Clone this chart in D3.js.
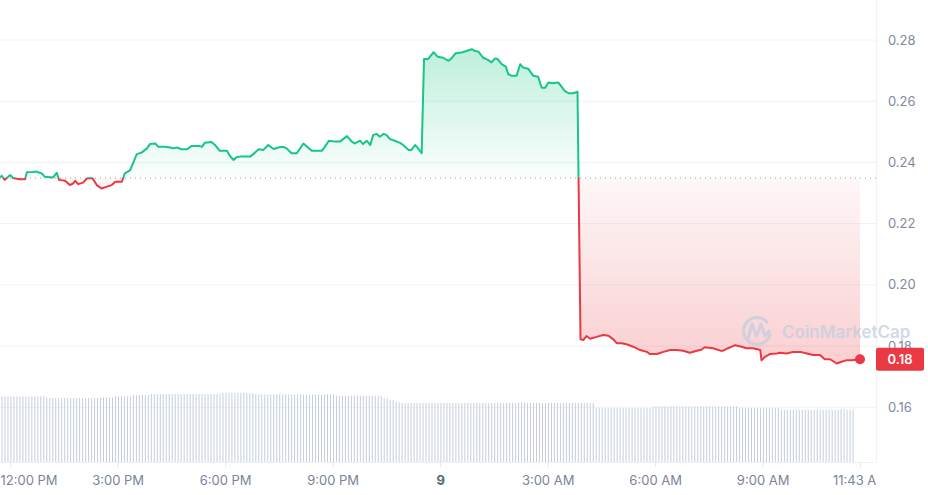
<!DOCTYPE html>
<html>
<head>
<meta charset="utf-8">
<script src="https://cdn.jsdelivr.net/npm/d3@7"></script>
<style>
  body { margin: 0; background: #fff; }
  svg { display: block; font-family: Inter, "Noto Sans", sans-serif; }
</style>
</head>
<body>
<div class="chart"></div>
<script>
// price samples: minutes after the window start (11:43 AM on the 8th) and price in USD
var minutes = [0, 3, 8, 17, 22, 33, 42, 45, 56, 61, 70, 75, 89, 95, 99, 109, 117, 123, 126, 131,
  139, 146, 155, 162, 170, 179, 187, 193, 204, 209, 218, 229, 237, 246, 251, 260, 265, 276, 285, 290,
  296, 304, 313, 321, 332, 338, 343, 354, 360, 368, 380, 385, 391, 396, 402, 419, 427, 433, 441, 449,
  458, 466, 474, 480, 488, 497, 508, 522, 539, 551, 561, 569, 581, 589, 594, 603, 608, 614, 620, 625,
  631, 636, 642, 647, 653, 661, 670, 675, 684, 689, 695, 700, 706, 710, 717, 726, 733, 742, 751, 756,
  763, 773, 781, 790, 795, 801, 809, 817, 823, 829, 833, 840, 847, 851, 857, 865, 871, 876, 885, 893,
  901, 907, 913, 918, 925, 935, 946, 952, 960, 967, 972, 977, 982, 988, 999, 1010, 1019, 1027, 1033, 1041,
  1049, 1060, 1072, 1083, 1088, 1100, 1111, 1122, 1133, 1144, 1155, 1167, 1175, 1180, 1194, 1206, 1211, 1219, 1231, 1242,
  1250, 1261, 1273, 1275, 1281, 1289, 1301, 1306, 1317, 1328, 1340, 1351, 1362, 1373, 1381, 1390, 1401, 1409, 1418, 1426,
  1440];
var prices = [0.2352, 0.2356, 0.2343, 0.2359, 0.2349, 0.2345, 0.2345, 0.2368, 0.2369, 0.2370, 0.2364, 0.2353, 0.2351, 0.2366, 0.2343, 0.2340, 0.2326, 0.2332, 0.2340, 0.2329,
  0.2334, 0.2348, 0.2348, 0.2326, 0.2315, 0.2321, 0.2326, 0.2337, 0.2337, 0.2364, 0.2375, 0.2427, 0.2432, 0.2446, 0.2460, 0.2462, 0.2451, 0.2451, 0.2449, 0.2446,
  0.2449, 0.2443, 0.2443, 0.2454, 0.2454, 0.2451, 0.2464, 0.2467, 0.2457, 0.2438, 0.2438, 0.2421, 0.2408, 0.2417, 0.2419, 0.2419, 0.2432, 0.2443, 0.2441, 0.2457,
  0.2444, 0.2449, 0.2451, 0.2446, 0.2430, 0.2430, 0.2462, 0.2438, 0.2438, 0.2471, 0.2468, 0.2468, 0.2486, 0.2468, 0.2462, 0.2471, 0.2460, 0.2471, 0.2457, 0.2490,
  0.2493, 0.2484, 0.2493, 0.2490, 0.2476, 0.2471, 0.2464, 0.2457, 0.2441, 0.2441, 0.2457, 0.2446, 0.2430, 0.2738, 0.2738, 0.2760, 0.2745, 0.2742, 0.2732, 0.2740,
  0.2757, 0.2759, 0.2764, 0.2770, 0.2764, 0.2762, 0.2742, 0.2735, 0.2727, 0.2740, 0.2738, 0.2721, 0.2713, 0.2688, 0.2683, 0.2683, 0.2721, 0.2710, 0.2705, 0.2683,
  0.2680, 0.2644, 0.2644, 0.2661, 0.2659, 0.2661, 0.2633, 0.2626, 0.2626, 0.2631, 0.1822, 0.1820, 0.1833, 0.1824, 0.1830, 0.1836, 0.1834, 0.1822, 0.1809, 0.1809,
  0.1806, 0.1798, 0.1787, 0.1781, 0.1774, 0.1774, 0.1781, 0.1787, 0.1787, 0.1785, 0.1778, 0.1785, 0.1789, 0.1796, 0.1793, 0.1785, 0.1785, 0.1793, 0.1803, 0.1798,
  0.1793, 0.1793, 0.1787, 0.1754, 0.1765, 0.1774, 0.1776, 0.1778, 0.1776, 0.1781, 0.1781, 0.1776, 0.1771, 0.1771, 0.1757, 0.1757, 0.1743, 0.1749, 0.1754, 0.1754,
  0.1757];

// 5 minute volume bars (millions), 288 of them
var volumes = [
  6.53, 6.53, 6.53, 6.53, 6.53, 6.53, 6.53, 6.53, 6.53, 6.53, 6.53, 6.53, 6.53, 6.53, 6.53, 6.37, 6.37, 6.37, 6.37, 6.37, 6.37, 6.37, 6.37, 6.37,
  6.37, 6.37, 6.37, 6.37, 6.37, 6.37, 6.37, 6.37, 6.37, 6.42, 6.42, 6.42, 6.42, 6.42, 6.55, 6.55, 6.55, 6.55, 6.55, 6.55, 6.68, 6.68, 6.68, 6.68,
  6.68, 6.68, 6.77, 6.77, 6.77, 6.77, 6.77, 6.77, 6.77, 6.77, 6.77, 6.77, 6.77, 6.77, 6.77, 6.77, 6.77, 6.77, 6.77, 6.77, 6.77, 6.77, 6.77, 6.77,
  6.77, 6.77, 6.87, 6.87, 6.87, 6.87, 6.87, 6.87, 6.87, 6.87, 6.87, 6.87, 6.87, 6.73, 6.73, 6.73, 6.73, 6.73, 6.73, 6.73, 6.73, 6.73, 6.73, 6.73,
  6.73, 6.73, 6.73, 6.73, 6.73, 6.73, 6.73, 6.73, 6.73, 6.73, 6.73, 6.73, 6.73, 6.73, 6.73, 6.73, 6.60, 6.60, 6.60, 6.60, 6.60, 6.60, 6.60, 6.60,
  6.60, 6.60, 6.60, 6.60, 6.60, 6.60, 6.60, 6.60, 6.35, 6.30, 6.20, 6.20, 6.05, 5.95, 5.87, 5.87, 5.87, 5.87, 5.87, 5.87, 5.87, 5.87, 5.87, 5.87,
  5.87, 5.87, 5.87, 5.87, 5.87, 5.87, 5.87, 5.87, 5.87, 5.87, 5.87, 5.87, 5.87, 5.87, 5.87, 5.87, 5.87, 5.87, 5.87, 5.87, 5.87, 5.87, 5.87, 5.87,
  5.87, 5.87, 5.87, 5.87, 5.87, 5.93, 5.93, 5.93, 5.87, 5.87, 5.87, 5.87, 5.87, 5.87, 5.87, 5.87, 5.87, 5.87, 5.87, 5.87, 5.87, 5.87, 5.87, 5.87,
  5.87, 5.87, 5.87, 5.87, 5.87, 5.87, 5.87, 5.37, 5.37, 5.37, 5.37, 5.37, 5.37, 5.37, 5.37, 5.37, 5.37, 5.37, 5.37, 5.37, 5.37, 5.37, 5.37, 5.37,
  5.37, 5.37, 5.53, 5.53, 5.53, 5.53, 5.53, 5.53, 5.53, 5.53, 5.53, 5.53, 5.53, 5.53, 5.53, 5.53, 5.53, 5.53, 5.53, 5.53, 5.53, 5.53, 5.53, 5.53,
  5.53, 5.53, 5.53, 5.53, 5.53, 5.53, 5.53, 5.37, 5.37, 5.37, 5.37, 5.37, 5.37, 5.37, 5.37, 5.37, 5.37, 5.37, 5.37, 5.37, 5.37, 5.20, 5.20, 5.20,
  5.20, 5.20, 5.20, 5.20, 5.20, 5.20, 5.20, 5.20, 5.20, 5.20, 5.20, 5.20, 5.20, 5.20, 5.20, 5.20, 5.20, 5.27, 5.27, 5.20, 5.20, 5.20];

var openPrice = 0.2349;   // price 24h ago, dotted reference line
var priceTicks = [0.16, 0.18, 0.20, 0.22, 0.24, 0.26, 0.28];
var timeTicks = ["2024-01-08 12:00", "2024-01-08 15:00", "2024-01-08 18:00", "2024-01-08 21:00",
  "2024-01-09 00:00", "2024-01-09 03:00", "2024-01-09 06:00", "2024-01-09 09:00", "2024-01-09 11:43"];
var timeLabels = ["12:00 PM", "3:00 PM", "6:00 PM", "9:00 PM", "9", "3:00 AM", "6:00 AM", "9:00 AM", "11:43 AM"];

var svgWidth = 928, svgHeight = 495;
var plotRight = 876, volBottom = 462;
var green = "#16c784", red = "#ea3943";

var parse = d3.timeParse("%Y-%m-%d %H:%M");
var start = parse("2024-01-08 11:43");
var end = parse("2024-01-09 11:43");
var addMin = (m) => new Date(start.getTime() + m * 60000);

var data = minutes.map((m, i) => ({ t: addMin(m), p: prices[i] }));

var x = d3.scaleTime().domain([start, end]).range([0, 860]);
var y = d3.scaleLinear().domain([0.16, 0.28]).range([407.3, 40]);
var yVol = d3.scaleLinear().domain([0, d3.max(volumes)]).range([volBottom, 393]);

var svg = d3.select(".chart").append("svg")
  .attr("width", svgWidth)
  .attr("height", svgHeight);

var defs = svg.append("defs");
var base = y(openPrice);

var gGreen = defs.append("linearGradient").attr("id", "gGreen")
  .attr("gradientUnits", "userSpaceOnUse").attr("x1", 0).attr("x2", 0)
  .attr("y1", y(0.277)).attr("y2", base);
gGreen.append("stop").attr("offset", 0).attr("stop-color", green).attr("stop-opacity", 0.28);
gGreen.append("stop").attr("offset", 1).attr("stop-color", green).attr("stop-opacity", 0.02);

var gRed = defs.append("linearGradient").attr("id", "gRed")
  .attr("gradientUnits", "userSpaceOnUse").attr("x1", 0).attr("x2", 0)
  .attr("y1", base).attr("y2", y(0.175));
gRed.append("stop").attr("offset", 0).attr("stop-color", red).attr("stop-opacity", 0.04);
gRed.append("stop").attr("offset", 1).attr("stop-color", red).attr("stop-opacity", 0.24);

defs.append("clipPath").attr("id", "above")
  .append("rect").attr("x", -5).attr("y", 0).attr("width", 900).attr("height", base);
defs.append("clipPath").attr("id", "below")
  .append("rect").attr("x", -5).attr("y", base).attr("width", 900).attr("height", svgHeight - base);
defs.append("clipPath").attr("id", "xclip")
  .append("rect").attr("x", 0).attr("y", 0).attr("width", plotRight).attr("height", svgHeight);

// grid
svg.append("g").selectAll("line")
  .data(priceTicks)
  .enter().append("line")
  .attr("x1", 0).attr("x2", plotRight)
  .attr("y1", d => y(d)).attr("y2", d => y(d))
  .attr("stroke", "#eff2f5");

svg.append("line")
  .attr("x1", plotRight + 0.5).attr("x2", plotRight + 0.5)
  .attr("y1", 0).attr("y2", volBottom)
  .attr("stroke", "#eff2f5");
svg.append("line")
  .attr("x1", 0).attr("x2", plotRight)
  .attr("y1", volBottom + 0.5).attr("y2", volBottom + 0.5)
  .attr("stroke", "#eff2f5");

// volume bars
svg.append("g").selectAll("rect")
  .data(volumes)
  .enter().append("rect")
  .attr("x", (d, i) => x(addMin(i * 5 + 2.5)))
  .attr("width", 1)
  .attr("y", d => yVol(d))
  .attr("height", d => volBottom - yVol(d))
  .attr("fill", "#c4cde0");

// areas
var area = d3.area()
  .x(d => x(d.t))
  .y0(base)
  .y1(d => y(d.p));

svg.append("path").datum(data)
  .attr("d", area)
  .attr("fill", "url(#gGreen)")
  .attr("clip-path", "url(#above)");
svg.append("path").datum(data)
  .attr("d", area)
  .attr("fill", "url(#gRed)")
  .attr("clip-path", "url(#below)");

// dotted open line
svg.append("line")
  .attr("x1", 0).attr("x2", plotRight)
  .attr("y1", base).attr("y2", base)
  .attr("stroke", "#98a1b0")
  .attr("stroke-width", 1)
  .attr("stroke-dasharray", "1,4");

// watermark
var wm = svg.append("g").attr("opacity", 0.75);
wm.append("path")
  .attr("d", d3.arc()({ innerRadius: 12, outerRadius: 15, startAngle: 0.55 * Math.PI, endAngle: 2.3 * Math.PI }))
  .attr("transform", "translate(757,331)")
  .attr("fill", "#c3cde0");
wm.append("path")
  .attr("d", "M748,339 L752,324 L756.5,336 L761,324 L765,336 L769,331")
  .attr("fill", "none")
  .attr("stroke", "#c3cde0")
  .attr("stroke-width", 3)
  .attr("stroke-linejoin", "round")
  .attr("stroke-linecap", "round");
wm.append("text")
  .attr("x", 782).attr("y", 337.5)
  .attr("font-size", 17)
  .attr("font-weight", 600)
  .attr("fill", "#c3cde0")
  .text("CoinMarketCap");

// price line, green above the open price and red below
var line = d3.line()
  .x(d => x(d.t))
  .y(d => y(d.p));

svg.append("path").datum(data)
  .attr("d", line)
  .attr("fill", "none")
  .attr("stroke", green)
  .attr("stroke-width", 2)
  .attr("stroke-linejoin", "round")
  .attr("clip-path", "url(#above)");
svg.append("path").datum(data)
  .attr("d", line)
  .attr("fill", "none")
  .attr("stroke", red)
  .attr("stroke-width", 2)
  .attr("stroke-linejoin", "round")
  .attr("clip-path", "url(#below)");

var last = data[data.length - 1];
svg.append("circle")
  .attr("cx", x(last.t)).attr("cy", y(last.p))
  .attr("r", 5)
  .attr("fill", red);

// y labels on the right
svg.append("g").selectAll("text")
  .data(priceTicks)
  .enter().append("text")
  .attr("x", 888)
  .attr("y", d => y(d))
  .attr("dy", "0.35em")
  .attr("font-size", 13)
  .attr("fill", "#808a9d")
  .text(d => d3.format(".2f")(d));

// current price tag
svg.append("rect")
  .attr("x", plotRight).attr("y", y(last.p) - 11.5)
  .attr("width", 48).attr("height", 23)
  .attr("rx", 2)
  .attr("fill", red);
svg.append("text")
  .attr("x", plotRight + 24).attr("y", y(last.p))
  .attr("dy", "0.36em")
  .attr("text-anchor", "middle")
  .attr("font-size", 13)
  .attr("font-weight", 600)
  .attr("fill", "#fff")
  .text(d3.format(".2f")(last.p));

// x axis
var xAxis = d3.axisBottom(x)
  .tickValues(timeTicks.map(parse))
  .tickFormat((d, i) => timeLabels[i])
  .tickSize(5)
  .tickPadding(9);

var gx = svg.append("g")
  .attr("transform", `translate(0, ${volBottom})`)
  .attr("clip-path", "url(#xclip)")
  .call(xAxis);

gx.select(".domain").remove();
gx.selectAll(".tick line").attr("stroke", "#e3e7ee");
gx.selectAll(".tick text")
  .attr("font-family", "Inter, 'Noto Sans', sans-serif")
  .attr("font-size", 13)
  .attr("fill", "#7a8599")
  .attr("font-weight", (d, i) => timeLabels[i] === "9" ? 700 : 400)
  .filter((d, i) => timeLabels[i] === "9").attr("fill", "#58667e");

// first label pushed inside the left edge
gx.selectAll(".tick text").filter((d, i) => i === 0)
  .attr("text-anchor", "start")
  .attr("x", -x(parse(timeTicks[0])));
</script>
</body>
</html>
